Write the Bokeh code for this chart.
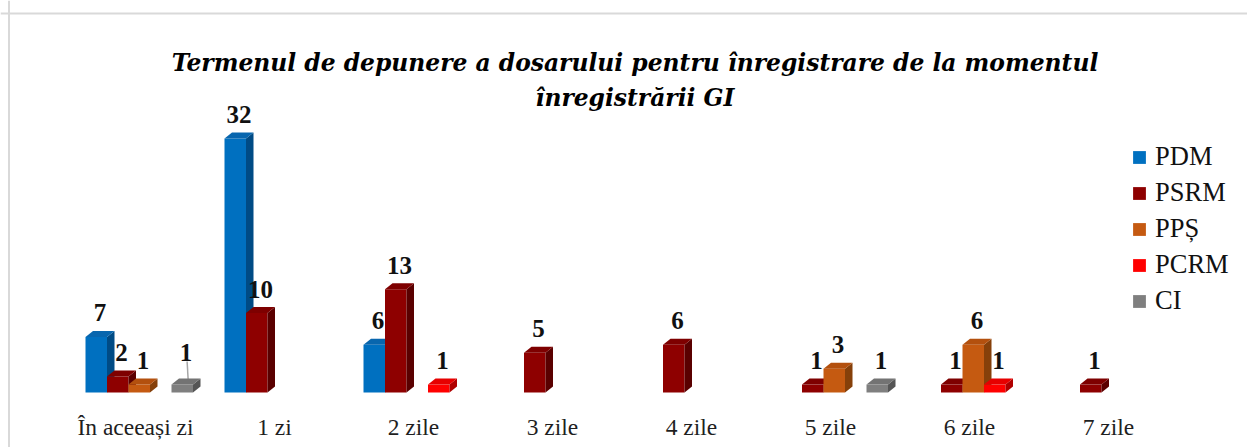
from bokeh.plotting import figure
from bokeh.models import Legend, LegendItem, Label, Span, Range1d, ColumnDataSource
from bokeh.embed import file_html
from bokeh.resources import INLINE
from bokeh.core.properties import value

# ---------------- data ----------------
categories = ["În aceeași zi", "1 zi", "2 zile", "3 zile", "4 zile", "5 zile", "6 zile", "7 zile"]
series = ["PDM", "PSRM", "PPȘ", "PCRM", "CI"]
pdm = [7, 32, 6, 0, 0, 0, 0, 0]
psrm = [2, 10, 13, 5, 6, 1, 1, 1]
pps = [1, 0, 0, 0, 0, 3, 6, 0]
pcrm = [0, 0, 1, 0, 0, 0, 1, 0]
ci = [1, 0, 0, 0, 0, 1, 0, 0]
title_lines = ["Termenul de depunere a dosarului pentru înregistrare de la momentul",
               "înregistrării GI"]

values = {"PDM": pdm, "PSRM": psrm, "PPȘ": pps, "PCRM": pcrm, "CI": ci}

# ---------------- styles ----------------
front_col = {"PDM": "#0070C0", "PSRM": "#8E0000", "PPȘ": "#C55A11", "PCRM": "#FF0000", "CI": "#7F7F7F"}
top_col = {"PDM": "#0866AE", "PSRM": "#7E0000", "PPȘ": "#B3500E", "PCRM": "#E60000", "CI": "#737373"}
side_col = {"PDM": "#004B85", "PSRM": "#5A0000", "PPȘ": "#86400A", "PCRM": "#B00000", "CI": "#555555"}

W, H = 1247, 447
BASE_PX = 392.0         # pixel row of the value 0 baseline
CAT0_PX = 135.0         # pixel column of first category centre
PX_CAT = 139.0          # pixels per category
PX_UNIT = 7.94          # pixels per value unit
SLOT_PX = 21.5
GROUP_SHIFT_PX = 3.75
DEPTH_X_PX, DEPTH_Y_PX = 7.5, 6.0
LABEL_GAP_PX = 18.0
CAT_LABEL_MID_PX = 426.0
TITLE_FONT = "DejaVu Serif"
FONT = "Liberation Serif"

x0 = -CAT0_PX / PX_CAT
x1 = x0 + W / PX_CAT
y0 = -(H - BASE_PX) / PX_UNIT
y1 = BASE_PX / PX_UNIT

p = figure(width=W, height=H, output_backend="svg", toolbar_location=None,
           x_range=Range1d(x0, x1), y_range=Range1d(y0, y1),
           x_axis_location=None, y_axis_location=None,
           min_border_left=0, min_border_right=0, min_border_top=0, min_border_bottom=0)
p.outline_line_color = None
p.xgrid.grid_line_color = None
p.ygrid.grid_line_color = None
p.background_fill_color = "white"
p.border_fill_color = "white"

w = SLOT_PX / PX_CAT
dx = DEPTH_X_PX / PX_CAT
dy = DEPTH_Y_PX / PX_UNIT
shift = GROUP_SHIFT_PX / PX_CAT
nser = len(series)

# category labels
p.text(x=list(range(len(categories))), y=[-(CAT_LABEL_MID_PX - BASE_PX) / PX_UNIT] * len(categories),
       text=categories, text_font=value(FONT), text_font_size="23.5px",
       text_align="center", text_baseline="middle", text_color="#1f1f1f")

# extra label lift (pixels) for labels Excel moved with a leader line
label_lift = {("CI", 0): 8.0}

legend_items = []
lab_x, lab_y, lab_t = [], [], []
for j, s in enumerate(series):
    L, R, T = [], [], []
    top_xs, top_ys, side_xs, side_ys = [], [], [], []
    for i, v in enumerate(values[s]):
        if v <= 0:
            continue
        left = i + shift - nser * w / 2 + j * w
        right = left + w
        L.append(left); R.append(right); T.append(v)
        top_xs.append([left, right, right + dx, left + dx])
        top_ys.append([v, v, v + dy, v + dy])
        side_xs.append([right, right + dx, right + dx, right])
        side_ys.append([0, dy, v + dy, v])
        cx = (left + right) / 2 + dx / 2
        lift = label_lift.get((s, i), 0.0)
        ly = v + dy + (LABEL_GAP_PX + lift) / PX_UNIT
        lab_x.append(cx); lab_y.append(ly); lab_t.append(str(v))
        if lift:
            p.segment(x0=[cx + 0.3 * dx], y0=[v + dy * 0.5], x1=[cx + 0.15 * dx],
                      y1=[ly - 9 / PX_UNIT], line_color="#A6A6A6", line_width=1.5)
    src = ColumnDataSource(dict(left=L, right=R, top=T, bottom=[0] * len(T)))
    r = p.quad(left="left", right="right", top="top", bottom="bottom", source=src,
               fill_color=front_col[s], line_color=None)
    p.patches(side_xs, side_ys, fill_color=side_col[s], line_color=None)
    p.patches(top_xs, top_ys, fill_color=top_col[s], line_color=None)
    legend_items.append(LegendItem(label=s, renderers=[r]))

p.text(x=lab_x, y=lab_y, text=lab_t, text_font=value(FONT), text_font_style="bold",
       text_font_size="25px", text_align="center", text_baseline="middle", text_color="#111111")

legend = Legend(items=legend_items, location=(1131, 131), orientation="vertical",
                glyph_width=16, glyph_height=16, label_height=26, spacing=5,
                padding=0, margin=0, label_standoff=8, border_line_color=None,
                background_fill_alpha=0, label_text_font=FONT,
                label_text_font_size="26.5px", label_text_color="#111111")
p.add_layout(legend)

# title (two lines)
for k, (line, base) in enumerate(zip(title_lines, [62, 97])):
    p.add_layout(Label(x=634.5, y=H - base, x_units="screen", y_units="screen",
                       text=line, text_align="center", text_baseline="alphabetic",
                       text_font=TITLE_FONT, text_font_style="bold italic", text_font_size="23.4px",
                       text_color="#000000"))

# chart border (top and left edges visible in the crop)
p.add_layout(Span(location=(BASE_PX - 13) / PX_UNIT, dimension="width",
                  line_color="#D9D9D9", line_width=2))
p.add_layout(Span(location=x0 + 8.5 / PX_CAT, dimension="height",
                  line_color="#D9D9D9", line_width=2))

open("out.html", "w").write(file_html(p, INLINE))
